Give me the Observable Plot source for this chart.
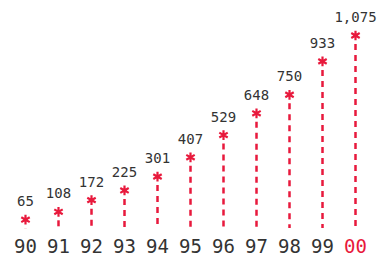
<!DOCTYPE html>
<html>
<head>
<meta charset="utf-8">
<script src="https://cdn.jsdelivr.net/npm/d3@7"></script>
<script src="https://cdn.jsdelivr.net/npm/@observablehq/plot@0.6"></script>
<style>
  html, body { margin: 0; padding: 0; background: #fff; }
  #chart svg { display: block; }
</style>
</head>
<body>
<div id="chart"></div>
<script>
const years = ["90", "91", "92", "93", "94", "95", "96", "97", "98", "99", "00"];
const values = [65, 108, 172, 225, 301, 407, 529, 648, 750, 933, 1075];
const highlightYear = "00";

const red = "#e8193c";
const ink = "#333333";
const data = years.map((year, i) => ({year, value: values[i]}));

const chart = Plot.plot({
  width: 380,
  height: 261,
  marginLeft: 25,
  marginRight: 25,
  marginTop: 35,
  marginBottom: 30,
  style: {background: "#fff", fontFamily: "'DejaVu Sans Mono', monospace"},
  x: {type: "point", domain: years, padding: 0, axis: null},
  y: {domain: [0, 1075], axis: null},
  marks: [
    Plot.ruleX(data, {
      x: "year", y1: "value", y2: 0,
      stroke: red, strokeWidth: 2.5, strokeDasharray: "6,5",
      insetTop: 9, insetBottom: 3
    }),
    Plot.dot(data, {
      x: "year", y: "value", symbol: "asterisk",
      r: 4.6, stroke: red, strokeWidth: 2.2
    }),
    Plot.text(data, {
      x: "year", y: "value", text: d => d3.format(",")(d.value),
      dy: -18, fontSize: 14, fill: ink
    }),
    Plot.text(data, {
      x: "year", text: "year", frameAnchor: "bottom", dy: 21,
      fontSize: 19, fill: d => d.year === highlightYear ? red : ink
    })
  ]
});
document.getElementById("chart").appendChild(chart);
</script>
</body>
</html>
